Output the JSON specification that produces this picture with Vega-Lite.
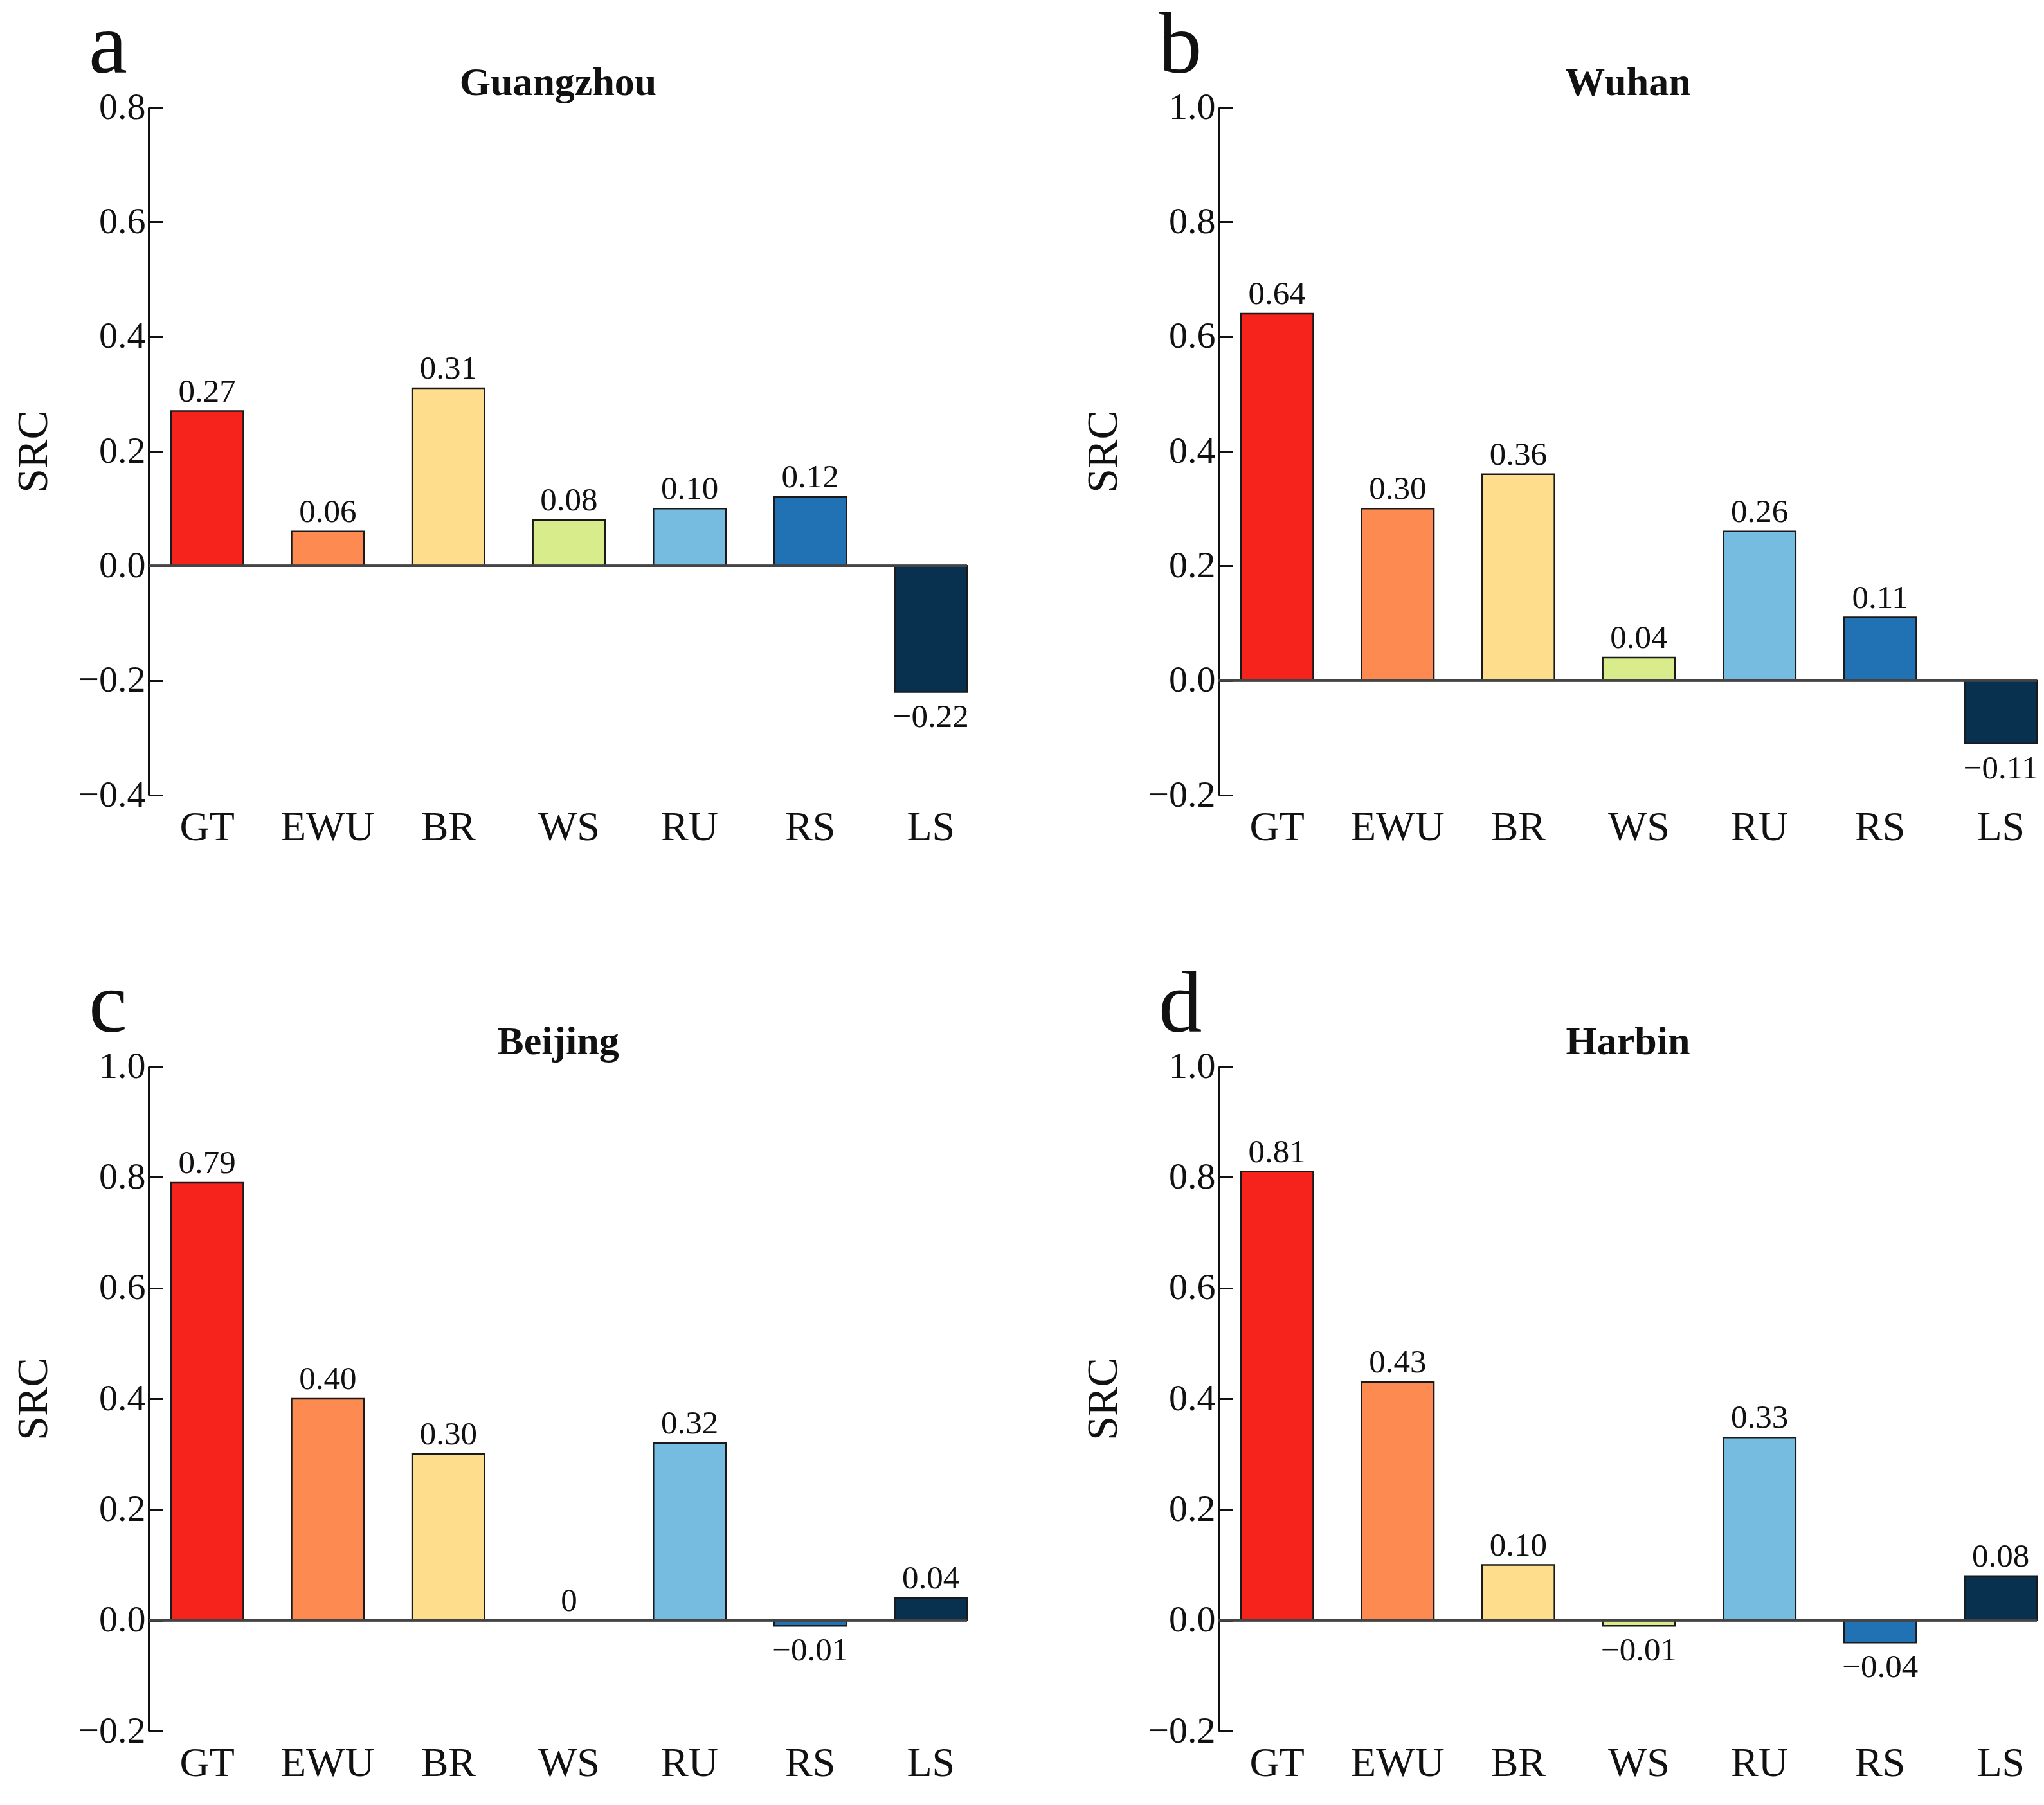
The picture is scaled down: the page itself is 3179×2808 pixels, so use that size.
{
  "$schema": "https://vega.github.io/schema/vega-lite/v6.json",
  "background": "white",
  "padding": {"left": 18, "top": 5, "right": 5, "bottom": 5},
  "data": {
    "values": [
      {"city": "Guangzhou", "factor": "GT", "src": 0.27},
      {"city": "Guangzhou", "factor": "EWU", "src": 0.06},
      {"city": "Guangzhou", "factor": "BR", "src": 0.31},
      {"city": "Guangzhou", "factor": "WS", "src": 0.08},
      {"city": "Guangzhou", "factor": "RU", "src": 0.10},
      {"city": "Guangzhou", "factor": "RS", "src": 0.12},
      {"city": "Guangzhou", "factor": "LS", "src": -0.22},
      {"city": "Wuhan", "factor": "GT", "src": 0.64},
      {"city": "Wuhan", "factor": "EWU", "src": 0.30},
      {"city": "Wuhan", "factor": "BR", "src": 0.36},
      {"city": "Wuhan", "factor": "WS", "src": 0.04},
      {"city": "Wuhan", "factor": "RU", "src": 0.26},
      {"city": "Wuhan", "factor": "RS", "src": 0.11},
      {"city": "Wuhan", "factor": "LS", "src": -0.11},
      {"city": "Beijing", "factor": "GT", "src": 0.79},
      {"city": "Beijing", "factor": "EWU", "src": 0.40},
      {"city": "Beijing", "factor": "BR", "src": 0.30},
      {"city": "Beijing", "factor": "WS", "src": 0},
      {"city": "Beijing", "factor": "RU", "src": 0.32},
      {"city": "Beijing", "factor": "RS", "src": -0.01},
      {"city": "Beijing", "factor": "LS", "src": 0.04},
      {"city": "Harbin", "factor": "GT", "src": 0.81},
      {"city": "Harbin", "factor": "EWU", "src": 0.43},
      {"city": "Harbin", "factor": "BR", "src": 0.10},
      {"city": "Harbin", "factor": "WS", "src": -0.01},
      {"city": "Harbin", "factor": "RU", "src": 0.33},
      {"city": "Harbin", "factor": "RS", "src": -0.04},
      {"city": "Harbin", "factor": "LS", "src": 0.08}
    ]
  },
  "columns": 2,
  "spacing": {"column": 175, "row": 178},
  "concat": [
    {
      "title": {"text": "a"},
      "width": 1273,
      "height": 1070,
      "transform": [
        {"filter": "datum.city == 'Guangzhou'"},
        {"calculate": "datum.src == 0 ? '0' : format(datum.src, '.2f')", "as": "lab"}
      ],
      "encoding": {
        "y": {"field": "src", "type": "quantitative", "title": "SRC",
          "scale": {"domain": [-0.4, 0.8], "nice": false},
          "axis": {"values": [-0.4, -0.2, 0, 0.2, 0.4, 0.6, 0.8], "format": ".1f"}}
      },
      "layer": [
        {
          "mark": {"type": "bar", "stroke": "#1a1a1a", "strokeWidth": 2.5},
          "encoding": {
            "x": {"field": "factor", "type": "nominal", "title": null,
              "scale": {"domain": ["GT", "EWU", "BR", "WS", "RU", "RS", "LS"], "paddingInner": 0.4, "paddingOuter": 0.093, "align": 1}},
            "color": {"field": "factor", "type": "nominal", "legend": null,
              "scale": {"domain": ["GT", "EWU", "BR", "WS", "RU", "RS", "LS"],
                "range": ["#F5231C", "#FC8A51", "#FEDE8D", "#D9EC8C", "#76BCE1", "#2171B5", "#08304F"]}}
          }
        },
        {"mark": {"type": "rule", "color": "#444444", "strokeWidth": 3}, "encoding": {"y": {"datum": 0}}},
        {
          "transform": [{"filter": "datum.src >= 0"}],
          "mark": {"type": "text", "baseline": "alphabetic", "dy": -15, "fontSize": 51},
          "encoding": {
            "x": {"field": "factor", "type": "nominal", "title": "Guangzhou",
              "axis": {"orient": "top", "labels": false, "ticks": false, "domain": false}},
            "text": {"field": "lab"}
          }
        },
        {
          "transform": [{"filter": "datum.src < 0"}],
          "mark": {"type": "text", "baseline": "top", "dy": 14, "fontSize": 51},
          "encoding": {
            "x": {"field": "factor", "type": "nominal", "axis": null},
            "text": {"field": "lab"}
          }
        }
      ],
      "resolve": {"axis": {"x": "independent"}}
    },
    {
      "title": {"text": "b"},
      "width": 1273,
      "height": 1070,
      "transform": [
        {"filter": "datum.city == 'Wuhan'"},
        {"calculate": "datum.src == 0 ? '0' : format(datum.src, '.2f')", "as": "lab"}
      ],
      "encoding": {
        "y": {"field": "src", "type": "quantitative", "title": "SRC",
          "scale": {"domain": [-0.2, 1.0], "nice": false},
          "axis": {"values": [-0.2, 0, 0.2, 0.4, 0.6, 0.8, 1.0], "format": ".1f"}}
      },
      "layer": [
        {
          "mark": {"type": "bar", "stroke": "#1a1a1a", "strokeWidth": 2.5},
          "encoding": {
            "x": {"field": "factor", "type": "nominal", "title": null,
              "scale": {"domain": ["GT", "EWU", "BR", "WS", "RU", "RS", "LS"], "paddingInner": 0.4, "paddingOuter": 0.093, "align": 1}},
            "color": {"field": "factor", "type": "nominal", "legend": null,
              "scale": {"domain": ["GT", "EWU", "BR", "WS", "RU", "RS", "LS"],
                "range": ["#F5231C", "#FC8A51", "#FEDE8D", "#D9EC8C", "#76BCE1", "#2171B5", "#08304F"]}}
          }
        },
        {"mark": {"type": "rule", "color": "#444444", "strokeWidth": 3}, "encoding": {"y": {"datum": 0}}},
        {
          "transform": [{"filter": "datum.src >= 0"}],
          "mark": {"type": "text", "baseline": "alphabetic", "dy": -15, "fontSize": 51},
          "encoding": {
            "x": {"field": "factor", "type": "nominal", "title": "Wuhan",
              "axis": {"orient": "top", "labels": false, "ticks": false, "domain": false}},
            "text": {"field": "lab"}
          }
        },
        {
          "transform": [{"filter": "datum.src < 0"}],
          "mark": {"type": "text", "baseline": "top", "dy": 14, "fontSize": 51},
          "encoding": {
            "x": {"field": "factor", "type": "nominal", "axis": null},
            "text": {"field": "lab"}
          }
        }
      ],
      "resolve": {"axis": {"x": "independent"}}
    },
    {
      "title": {"text": "c"},
      "width": 1273,
      "height": 1034,
      "transform": [
        {"filter": "datum.city == 'Beijing'"},
        {"calculate": "datum.src == 0 ? '0' : format(datum.src, '.2f')", "as": "lab"}
      ],
      "encoding": {
        "y": {"field": "src", "type": "quantitative", "title": "SRC",
          "scale": {"domain": [-0.2, 1.0], "nice": false},
          "axis": {"values": [-0.2, 0, 0.2, 0.4, 0.6, 0.8, 1.0], "format": ".1f"}}
      },
      "layer": [
        {
          "mark": {"type": "bar", "stroke": "#1a1a1a", "strokeWidth": 2.5},
          "encoding": {
            "x": {"field": "factor", "type": "nominal", "title": null,
              "scale": {"domain": ["GT", "EWU", "BR", "WS", "RU", "RS", "LS"], "paddingInner": 0.4, "paddingOuter": 0.093, "align": 1}},
            "color": {"field": "factor", "type": "nominal", "legend": null,
              "scale": {"domain": ["GT", "EWU", "BR", "WS", "RU", "RS", "LS"],
                "range": ["#F5231C", "#FC8A51", "#FEDE8D", "#D9EC8C", "#76BCE1", "#2171B5", "#08304F"]}}
          }
        },
        {"mark": {"type": "rule", "color": "#444444", "strokeWidth": 3}, "encoding": {"y": {"datum": 0}}},
        {
          "transform": [{"filter": "datum.src >= 0"}],
          "mark": {"type": "text", "baseline": "alphabetic", "dy": -15, "fontSize": 51},
          "encoding": {
            "x": {"field": "factor", "type": "nominal", "title": "Beijing",
              "axis": {"orient": "top", "labels": false, "ticks": false, "domain": false}},
            "text": {"field": "lab"}
          }
        },
        {
          "transform": [{"filter": "datum.src < 0"}],
          "mark": {"type": "text", "baseline": "top", "dy": 14, "fontSize": 51},
          "encoding": {
            "x": {"field": "factor", "type": "nominal", "axis": null},
            "text": {"field": "lab"}
          }
        }
      ],
      "resolve": {"axis": {"x": "independent"}}
    },
    {
      "title": {"text": "d"},
      "width": 1273,
      "height": 1034,
      "transform": [
        {"filter": "datum.city == 'Harbin'"},
        {"calculate": "datum.src == 0 ? '0' : format(datum.src, '.2f')", "as": "lab"}
      ],
      "encoding": {
        "y": {"field": "src", "type": "quantitative", "title": "SRC",
          "scale": {"domain": [-0.2, 1.0], "nice": false},
          "axis": {"values": [-0.2, 0, 0.2, 0.4, 0.6, 0.8, 1.0], "format": ".1f"}}
      },
      "layer": [
        {
          "mark": {"type": "bar", "stroke": "#1a1a1a", "strokeWidth": 2.5},
          "encoding": {
            "x": {"field": "factor", "type": "nominal", "title": null,
              "scale": {"domain": ["GT", "EWU", "BR", "WS", "RU", "RS", "LS"], "paddingInner": 0.4, "paddingOuter": 0.093, "align": 1}},
            "color": {"field": "factor", "type": "nominal", "legend": null,
              "scale": {"domain": ["GT", "EWU", "BR", "WS", "RU", "RS", "LS"],
                "range": ["#F5231C", "#FC8A51", "#FEDE8D", "#D9EC8C", "#76BCE1", "#2171B5", "#08304F"]}}
          }
        },
        {"mark": {"type": "rule", "color": "#444444", "strokeWidth": 3}, "encoding": {"y": {"datum": 0}}},
        {
          "transform": [{"filter": "datum.src >= 0"}],
          "mark": {"type": "text", "baseline": "alphabetic", "dy": -15, "fontSize": 51},
          "encoding": {
            "x": {"field": "factor", "type": "nominal", "title": "Harbin",
              "axis": {"orient": "top", "labels": false, "ticks": false, "domain": false}},
            "text": {"field": "lab"}
          }
        },
        {
          "transform": [{"filter": "datum.src < 0"}],
          "mark": {"type": "text", "baseline": "top", "dy": 14, "fontSize": 51},
          "encoding": {
            "x": {"field": "factor", "type": "nominal", "axis": null},
            "text": {"field": "lab"}
          }
        }
      ],
      "resolve": {"axis": {"x": "independent"}}
    }
  ],
  "config": {
    "font": "Liberation Serif",
    "view": {"stroke": null},
    "text": {"font": "Liberation Serif", "color": "#111111"},
    "axis": {
      "grid": false,
      "labelFont": "Liberation Serif",
      "titleFont": "Liberation Serif",
      "labelColor": "#111111",
      "titleColor": "#111111",
      "domainColor": "#111111",
      "tickColor": "#111111"
    },
    "axisY": {
      "labelFontSize": 58,
      "domainWidth": 3,
      "tickWidth": 3,
      "tickSize": -22,
      "labelPadding": 27,
      "titleFontSize": 68,
      "titleFontWeight": "normal",
      "titlePadding": 34
    },
    "axisBottom": {
      "labelFontSize": 64,
      "labelPadding": 18,
      "domain": false,
      "ticks": false,
      "labelAngle": 0
    },
    "axisTop": {
      "titleFontSize": 62,
      "titleFontWeight": "bold",
      "titleBaseline": "alphabetic",
      "titlePadding": 20
    },
    "title": {
      "font": "Liberation Serif",
      "fontSize": 135,
      "fontWeight": "normal",
      "color": "#111111",
      "anchor": "start",
      "frame": "group",
      "dx": -93,
      "baseline": "alphabetic",
      "offset": -44
    }
  }
}
